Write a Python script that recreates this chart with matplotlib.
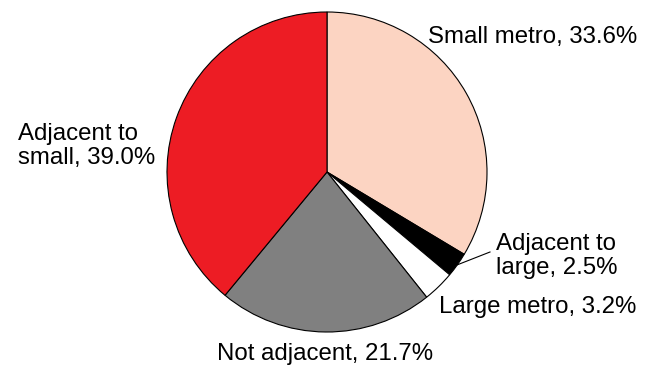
import numpy as np
import matplotlib.pyplot as plt

categories = ["Small metro", "Adjacent to large", "Large metro", "Not adjacent", "Adjacent to small"]
shares = [33.6, 2.5, 3.2, 21.7, 39.0]
colors = ["#FCD4C2", "#000000", "#FFFFFF", "#808080", "#ED1C24"]

plt.rcParams['font.family'] = ['Liberation Sans', 'DejaVu Sans']

fig = plt.figure(figsize=(6.51, 3.65), dpi=100)
ax = fig.add_axes([0, 0, 1, 1])

cx, cy, r = 327, 193, 160
ax.pie(shares, colors=colors, startangle=90, counterclock=False,
       center=(cx, cy), radius=r, frame=True,
       wedgeprops=dict(edgecolor='black', linewidth=0.8))
ax.set_xlim(0, 651)
ax.set_ylim(0, 365)
ax.set_aspect('equal')
ax.axis('off')

fs = 17.3
ax.text(428, 328, f"{categories[0]}, {shares[0]}%", fontsize=fs, va='center', ha='left')
ax.text(18, 219, f"Adjacent to\nsmall, {shares[4]}%", fontsize=fs, va='center', ha='left',
        linespacing=1.15)
ax.text(496, 109, f"Adjacent to\nlarge, {shares[1]}%", fontsize=fs, va='center', ha='left',
        linespacing=1.15)
ax.text(439, 58, f"{categories[2]}, {shares[2]}%", fontsize=fs, va='center', ha='left')
ax.text(217, 11, f"{categories[3]}, {shares[3]}%", fontsize=fs, va='center', ha='left')

# leader line for the small black slice
mid = shares[0] + shares[1] / 2
ang = np.deg2rad(90 - mid / 100 * 360)
x0, y0 = cx + r * np.cos(ang), cy + r * np.sin(ang)
ax.plot([x0, 490], [y0, 113], color='black', linewidth=0.8)

fig.savefig("out.png", dpi=100)
